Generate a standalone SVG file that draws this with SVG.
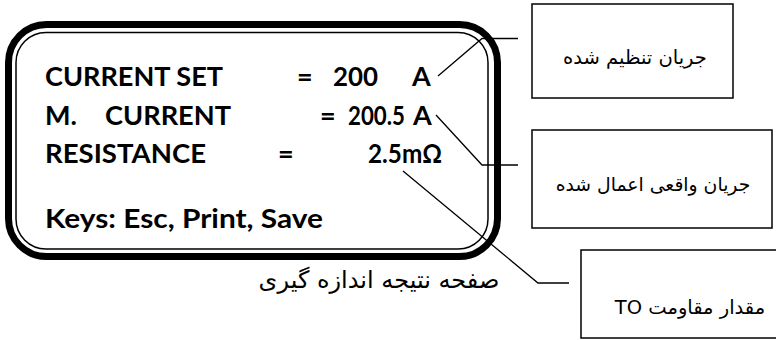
<svg xmlns="http://www.w3.org/2000/svg" width="776" height="340" viewBox="0 0 776 340">
<style>
.lcd{font-family:Lato,"Liberation Sans",sans-serif;font-weight:bold;font-size:27px;fill:#000}
.fa{font-family:"DejaVu Sans","Noto Sans",sans-serif;font-size:19.5px;fill:#000}
.cap{font-family:"DejaVu Sans","Noto Sans",sans-serif;font-size:24px;fill:#000}
.box{fill:#fff;stroke:#000;stroke-width:1.5}
.conn{fill:none;stroke:#000;stroke-width:1.3}
</style>
<rect width="776" height="340" fill="#fff"/>
<g id="screen">
<rect x="8.5" y="24.5" width="489" height="232" rx="38" ry="38" fill="none" stroke="#000" stroke-width="7"/>
<rect x="16" y="32.5" width="472" height="216.5" rx="30" ry="30" fill="none" stroke="#000" stroke-width="1.5"/>
<text class="lcd" x="45" y="86" textLength="178" lengthAdjust="spacingAndGlyphs">CURRENT SET</text>
<text class="lcd" x="297" y="86">=</text>
<text class="lcd" x="333" y="86" textLength="45" lengthAdjust="spacingAndGlyphs">200</text>
<text class="lcd" x="412" y="86">A</text>
<text class="lcd" x="45" y="125">M.</text>
<text class="lcd" x="105" y="125" textLength="126" lengthAdjust="spacingAndGlyphs">CURRENT</text>
<text class="lcd" x="320" y="125">=</text>
<text class="lcd" x="348" y="125" textLength="57" lengthAdjust="spacingAndGlyphs">200.5</text>
<text class="lcd" x="413" y="125">A</text>
<text class="lcd" x="45" y="163" textLength="161" lengthAdjust="spacingAndGlyphs">RESISTANCE</text>
<text class="lcd" x="278" y="163">=</text>
<text class="lcd" x="368" y="163" textLength="74" lengthAdjust="spacingAndGlyphs">2.5mΩ</text>
<text class="lcd" x="45" y="228" textLength="278" lengthAdjust="spacingAndGlyphs">Keys: Esc, Print, Save</text>
</g>
<g id="caption">
<text class="cap" x="379" y="288" text-anchor="middle" direction="rtl">صفحه نتیجه اندازه گیری</text>
</g>
<g id="connectors">
<polyline class="conn" points="438,76 482,38.5 518,38.5"/>
<polyline class="conn" points="436,115 482,165 518,165"/>
<polyline class="conn" points="403,171 538,283 569,283"/>
</g>
<g id="set-current">
<rect class="box" x="532" y="4" width="201" height="94"/>
<text class="fa" x="635" y="64" text-anchor="middle" direction="rtl">جریان تنظیم شده</text>
</g>
<g id="actual-current">
<rect class="box" x="532" y="130" width="240" height="98"/>
<text class="fa" x="653" y="191" text-anchor="middle" direction="rtl" style="font-size:18.8px">جریان واقعی اعمال شده</text>
</g>
<g id="resistance">
<rect class="box" x="581" y="250" width="200" height="88"/>
<text class="fa" x="690" y="314" text-anchor="middle" direction="rtl">مقدار مقاومت TO</text>
</g>
</svg>
